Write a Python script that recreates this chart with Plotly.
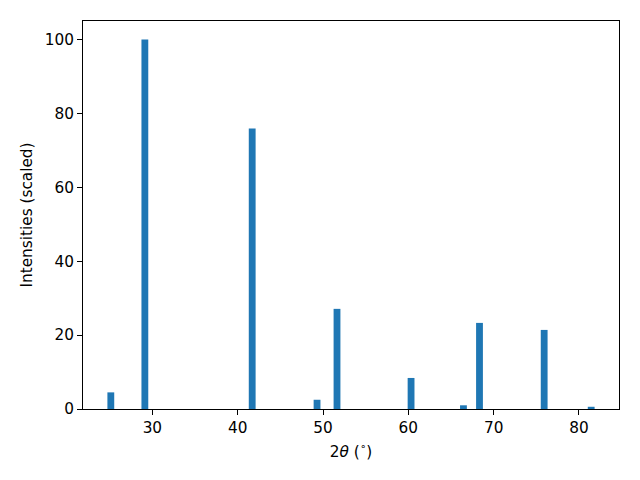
import plotly.graph_objects as go

two_theta = [25.13, 29.12, 41.70, 49.30, 51.64, 60.32, 66.46, 68.34, 75.92, 81.43]
intensity = [4.5, 100.0, 75.9, 2.5, 27.1, 8.4, 1.0, 23.3, 21.4, 0.6]
x_ticks = [30, 40, 50, 60, 70, 80]
y_ticks = [0, 20, 40, 60, 80, 100]

fig = go.Figure(go.Bar(x=two_theta, y=intensity, width=0.8,
                       marker=dict(color="#1f77b4", line=dict(width=0))))

font = dict(family="DejaVu Sans", size=15.3, color="black")
axis_common = dict(showgrid=False, zeroline=False, showline=True, linecolor="black",
                   linewidth=1, mirror=True, ticks="outside", ticklen=5, tickwidth=1,
                   tickcolor="black", tickfont=font)

fig.update_layout(
    width=640, height=480,
    margin=dict(l=83, r=21, t=21, b=71),
    plot_bgcolor="white", paper_bgcolor="white",
    showlegend=False,
    font=font,
    xaxis=dict(range=[21.87, 84.69], tickvals=x_ticks,
               title=dict(text="2<i>θ</i> (<sup>∘</sup>)", font=font, standoff=9),
               **axis_common),
    yaxis=dict(range=[0, 105], tickvals=y_ticks,
               title=dict(text="Intensities (scaled)", font=font, standoff=8),
               **axis_common),
)

fig.write_html("out.html", config={"displayModeBar": False},
               post_script="document.body.style.margin='0';")
